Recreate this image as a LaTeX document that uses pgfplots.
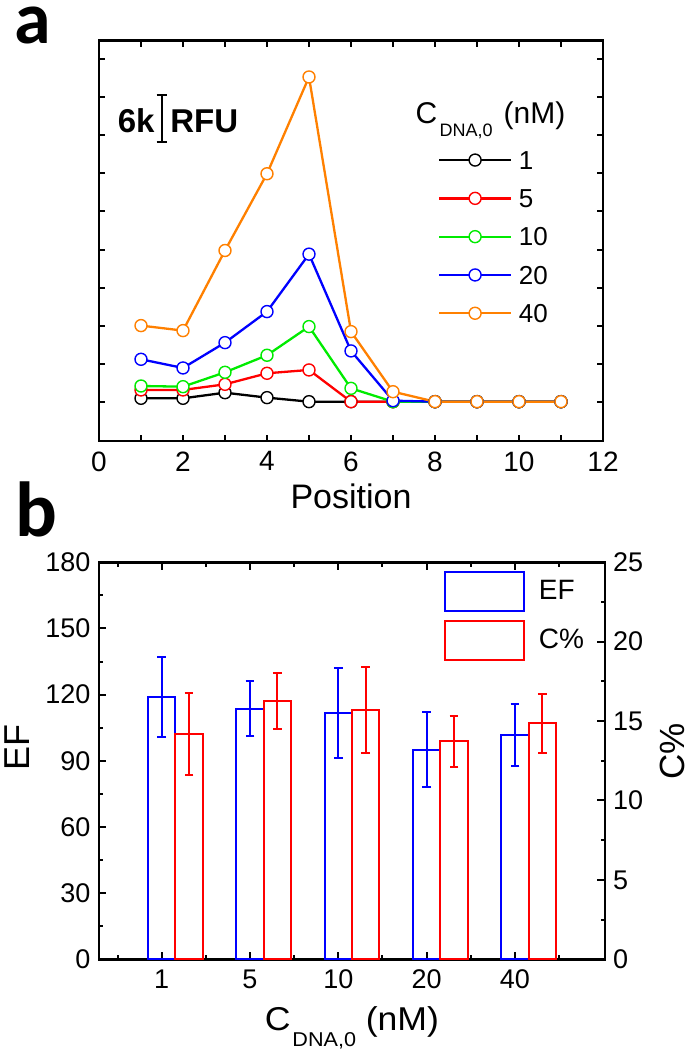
\documentclass[border=0pt]{standalone}
\usepackage{fontspec}
\setmainfont{Liberation Sans}
\newfontfamily\panelfont{Carlito}
\usepackage{pgfplots}
\pgfplotsset{compat=1.18}
\definecolor{cgreen}{RGB}{0,235,0}
\definecolor{corange}{RGB}{255,128,0}
\definecolor{cred}{RGB}{255,0,0}
\definecolor{cblue}{RGB}{0,0,255}
\pgfplotsset{
  lineplot/.style={line width=1.15pt, mark=*, mark size=3pt, mark options={fill=white, line width=0.7pt, solid}},
}
\begin{document}
\begin{tikzpicture}
\useasboundingbox (0,0) rectangle (346pt,525pt);
\node[anchor=base west, inner sep=0pt, font=\panelfont\bfseries\fontsize{37}{37}\selectfont] at (7pt,503pt) {a};
\node[anchor=base west, inner sep=0pt, font=\panelfont\bfseries\fontsize{39}{39}\selectfont] at (7.5pt,256.5pt) {b};

% ---------------- panel a ----------------
\begin{axis}[
  at={(49.5pt,304.5pt)}, anchor=south west,
  scale only axis, width=252pt, height=200.15pt,
  xmin=0, xmax=12, ymin=-5.17, ymax=47.45,
  axis line style={line width=1.3pt},
  tick style={black, line width=1pt},
  tick align=inside,
  major tick length=3pt, minor tick length=3pt,
  xtick={0,2,...,12}, minor xtick={1,3,...,11},
  ytick={0,5,...,45}, yticklabels={},
  /pgf/number format/assume math mode=true,
  tick label style={font=\fontsize{14}{14}\selectfont},
  xticklabel style={yshift=-1.8pt},
  xlabel={Position},
  xlabel style={font=\fontsize{17}{17}\selectfont, at={(axis description cs:0.5,-0.1674)}, anchor=base},
  legend cell align=left,
  legend image code/.code={\draw[mark repeat=2,mark phase=2,#1] plot coordinates {(0pt,0pt) (18pt,0pt) (36pt,0pt)};},
  legend style={draw=none, fill=none, inner sep=0pt, outer sep=0pt,
    at={(axis cs:8.07,21.69)}, anchor=west,
    row sep=9.85pt, column sep=3.35pt,
    nodes={inner sep=0pt, text height=9.3pt, text depth=0pt},
    font=\fontsize{13}{13}\selectfont},
]
\addplot[black, lineplot] coordinates {(1,0.44)(2,0.44)(3,1.18)(4,0.53)(5,0)(6,0)(7,0)(8,0)(9,0)(10,0)(11,0)};
\addlegendentry{1}
\addplot[cred, lineplot] coordinates {(1,1.54)(2,1.54)(3,2.28)(4,3.73)(5,4.17)(6,0)(7,0)(8,0)(9,0)(10,0)(11,0)};
\addlegendentry{5}
\addplot[cgreen, lineplot] coordinates {(1,2.06)(2,1.97)(3,3.86)(4,6.10)(5,9.87)(6,1.75)(7,0)(8,0)(9,0)(10,0)(11,0)};
\addlegendentry{10}
\addplot[cblue, lineplot] coordinates {(1,5.57)(2,4.43)(3,7.76)(4,11.84)(5,19.39)(6,6.67)(7,0.13)(8,0)(9,0)(10,0)(11,0)};
\addlegendentry{20}
\addplot[corange, lineplot] coordinates {(1,10.0)(2,9.34)(3,19.87)(4,29.96)(5,42.68)(6,9.21)(7,1.31)(8,0)(9,0)(10,0)(11,0)};
\addlegendentry{40}
% legend title
\node[anchor=base west, inner sep=0pt, font=\fontsize{15}{15}\selectfont] at (axis cs:7.53,36.50)
  {C\kern1.2pt\raisebox{-6.35pt}{\fontsize{9}{9}\selectfont DNA,0}\kern5.5pt(nM)};
% scale bar
\draw[line width=1.1pt] (axis cs:1.493,34.17) -- (axis cs:1.493,40.31);
\draw[line width=1.1pt] ([xshift=-2.5pt]axis cs:1.493,34.17) -- ([xshift=2.5pt]axis cs:1.493,34.17);
\draw[line width=1.1pt] ([xshift=-2.5pt]axis cs:1.493,40.31) -- ([xshift=2.5pt]axis cs:1.493,40.31);
\node[anchor=base east, inner sep=0pt, font=\bfseries\fontsize{16.5}{16.5}\selectfont] at (axis cs:1.333,35.41) {6k};
\node[anchor=base west, inner sep=0pt, font=\bfseries\fontsize{16.5}{16.5}\selectfont] at (axis cs:1.69,35.41) {RFU};
\end{axis}

% ---------------- panel b: EF ----------------
\begin{axis}[
  at={(49.5pt,45.35pt)}, anchor=south west,
  scale only axis, width=253pt, height=198.5pt,
  xmin=-0.71, xmax=5.02, ymin=0, ymax=180,
  axis line style={line width=1.3pt},
  tick style={black, line width=1pt},
  tick align=inside,
  major tick length=3.75pt, minor tick length=2.2pt,
  xtick={0,1,2,3,4}, xticklabels={1,5,10,20,40},
  minor xtick={-0.5,0.5,1.5,2.5,3.5,4.5},
  ytick={0,30,...,180}, minor ytick={15,45,...,165},
  ytick pos=left,
  /pgf/number format/assume math mode=true,
  tick label style={font=\fontsize{13.5}{13.5}\selectfont},
  xticklabel style={yshift=-1.7pt},
  yticklabel style={xshift=-0.8pt},
  xlabel={\scalebox{1.08}[1]{C\kern0.8pt\raisebox{-8.3pt}{\fontsize{10}{10}\selectfont DNA,0}\kern4.5pt(nM)}},
  xlabel style={font=\fontsize{16.5}{16.5}\selectfont, at={(axis description cs:0.5,-0.1781)}, anchor=base},
  ylabel={EF},
  ylabel style={font=\fontsize{18}{18}\selectfont, at={(axis description cs:-0.137,0.533)}, anchor=base},
]
\addplot[ybar, bar width=0.31, bar shift=0pt, draw=cblue, fill=none, line width=1pt,
  error bars/.cd, y dir=both, y explicit,
  error bar style={cblue, line width=1pt},
  error mark options={rotate=90, mark size=2.2pt, cblue, line width=1pt}]
  coordinates {(0,119.0) +- (0,18.0) (1,113.6) +- (0,12.5) (2,111.6) +- (0,20.3) (3,95.0) +- (0,16.9) (4,101.8) +- (0,14.0)};
\end{axis}

% ---------------- panel b: C% ----------------
\begin{axis}[
  at={(49.5pt,45.35pt)}, anchor=south west,
  scale only axis, width=253pt, height=198.5pt,
  xmin=-0.71, xmax=5.02, ymin=0, ymax=25,
  hide x axis,
  axis line style={line width=1.3pt},
  tick style={black, line width=1pt},
  tick align=inside,
  major tick length=3.75pt, minor tick length=2.2pt,
  ytick={0,5,...,25}, minor ytick={2.5,7.5,...,22.5},
  ytick pos=right, yticklabel pos=right,
  /pgf/number format/assume math mode=true,
  tick label style={font=\fontsize{13.5}{13.5}\selectfont},
  yticklabel style={xshift=0.5pt},
  ylabel={C\%},
  ylabel style={font=\fontsize{17.5}{17.5}\selectfont, at={(axis description cs:1.158,0.523)}, anchor=base},
  legend cell align=left,
  legend image code/.code={\draw[#1] (0pt,-9.75pt) rectangle (39.5pt,9.75pt);},
  legend style={draw=none, fill=none, inner sep=0pt, outer sep=0pt,
    at={(rel axis cs:0.6818,0.8649)}, anchor=west,
    row sep=4pt, column sep=5pt,
    font=\fontsize{14}{14}\selectfont},
]
\addlegendimage{draw=cblue, line width=1pt}
\addlegendentry{EF}
\addlegendimage{draw=cred, line width=1pt}
\addlegendentry{C\%}
\addplot[forget plot, ybar, bar width=0.31, bar shift=0pt, draw=cred, fill=none, line width=1pt,
  error bars/.cd, y dir=both, y explicit,
  error bar style={cred, line width=1pt},
  error mark options={rotate=90, mark size=2.2pt, cred, line width=1pt}]
  coordinates {(0.31,14.20) +- (0,2.6) (1.31,16.25) +- (0,1.75) (2.31,15.71) +- (0,2.7) (3.31,13.72) +- (0,1.6) (4.31,14.87) +- (0,1.85)};
\end{axis}
\end{tikzpicture}
\end{document}
